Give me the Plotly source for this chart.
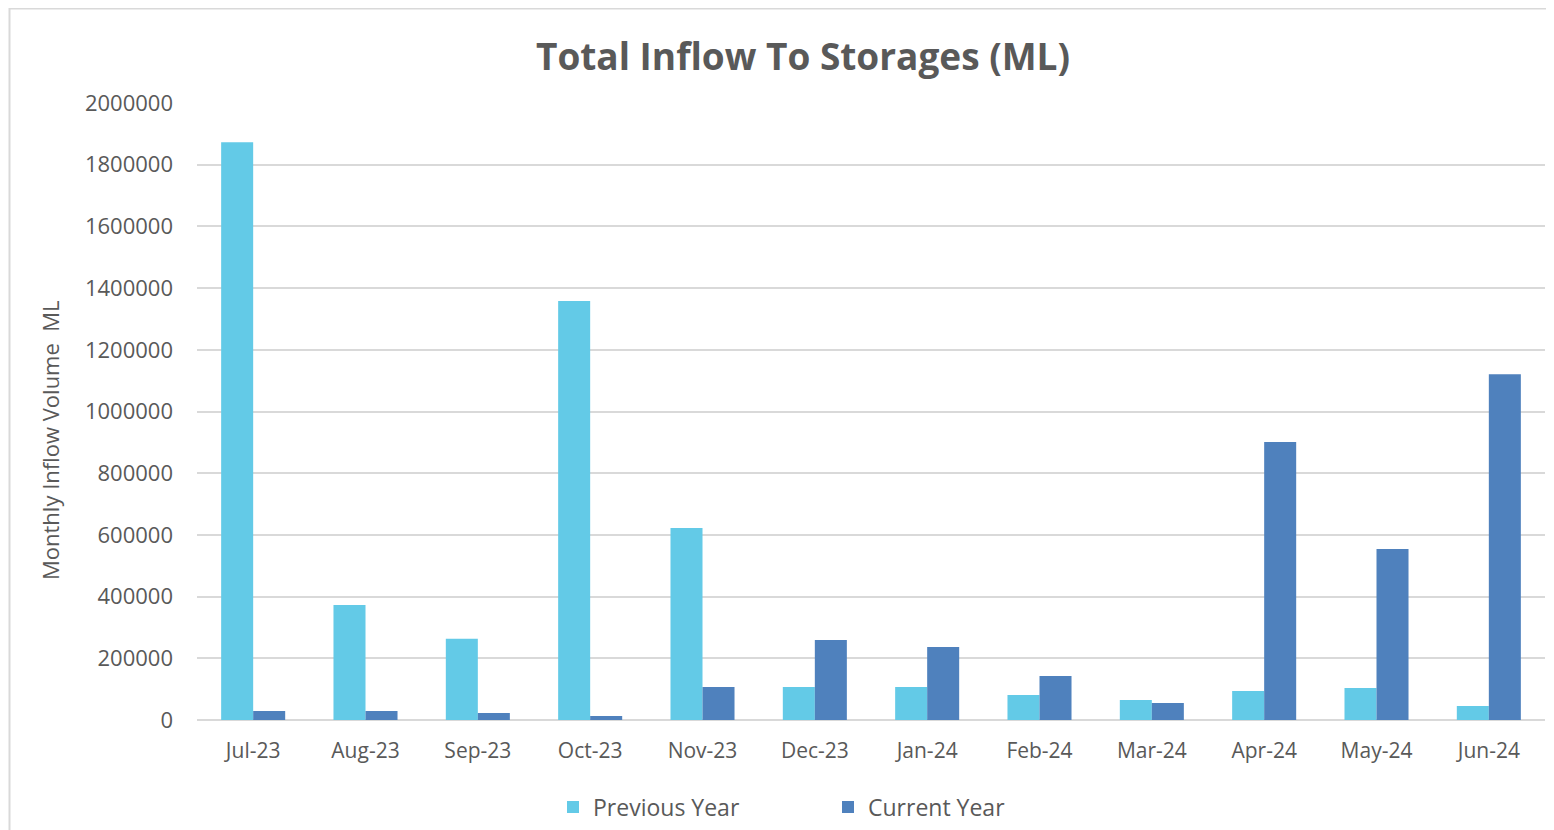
import plotly.graph_objects as go

months = ["Jul-23", "Aug-23", "Sep-23", "Oct-23", "Nov-23", "Dec-23",
          "Jan-24", "Feb-24", "Mar-24", "Apr-24", "May-24", "Jun-24"]
previous_year = [1873000, 373000, 263000, 1358000, 622000, 107000,
                 107000, 81000, 65000, 94000, 104000, 45000]
current_year = [29000, 29000, 23000, 13000, 107000, 259000,
                237000, 143000, 55000, 901000, 554000, 1121000]
y_ticks = [0, 200000, 400000, 600000, 800000, 1000000, 1200000,
           1400000, 1600000, 1800000, 2000000]

OFF = 8  # default page body margin
W, H = 1554 - OFF, 830 - OFF
L, R, T, B = 197 - OFF, 1545 - OFF, 103 - OFF, 720 - OFF

def px_x(p):
    return (p - OFF - L) / (R - L)

def px_y(p):
    return (B - (p - OFF)) / (B - T)

FONT = "Open Sans"
GREY = "#595959"

fig = go.Figure()
fig.add_trace(go.Bar(x=months, y=previous_year, name="Previous Year",
                     marker=dict(color="#63CAE7", line=dict(width=0))))
fig.add_trace(go.Bar(x=months, y=current_year, name="Current Year",
                     marker=dict(color="#4F81BD", line=dict(width=0))))

fig.update_layout(
    width=W, height=H,
    margin=dict(l=L, r=W - R, t=T, b=H - B, autoexpand=False),
    paper_bgcolor="white", plot_bgcolor="white",
    barmode="group", bargap=0.43, bargroupgap=0,
    font=dict(family=FONT, color=GREY, size=20),
    title=dict(text="<b>Total Inflow To Storages (ML)</b>",
               x=(803 - OFF) / W, xref="container", xanchor="center",
               y=1 - (57 - OFF) / H, yref="container", yanchor="middle",
               font=dict(family=FONT, size=37, color=GREY)),
    legend=dict(orientation="h", x=px_x(553), xanchor="left",
                y=px_y(807), yanchor="middle",
                entrywidth=230, entrywidthmode="pixels",
                font=dict(family=FONT, size=23, color=GREY),
                traceorder="normal"),
    showlegend=True,
)
fig.update_xaxes(showgrid=False, showline=False, zeroline=False,
                 ticks="", ticklabelstandoff=16,
                 tickfont=dict(family=FONT, size=21, color=GREY))
fig.update_yaxes(range=[0, 2000000], tickvals=y_ticks,
                 ticktext=[str(v) for v in y_ticks],
                 showgrid=True, gridcolor="#D9D9D9", gridwidth=1.5,
                 zeroline=True, zerolinecolor="#D9D9D9", zerolinewidth=2,
                 showline=False, ticks="", ticklabelstandoff=23,
                 tickfont=dict(family=FONT, size=22, color=GREY))

fig.add_annotation(text="Monthly Inflow Volume  ML", textangle=-90,
                   x=px_x(50), y=px_y(440), xref="paper", yref="paper",
                   showarrow=False, xanchor="center", yanchor="middle",
                   font=dict(family=FONT, size=22, color=GREY))

fig.add_shape(type="rect", xref="paper", yref="paper",
              x0=px_x(9.5), x1=px_x(1570), y0=px_y(850), y1=px_y(8.5),
              line=dict(color="#D9D9D9", width=2), fillcolor="rgba(0,0,0,0)",
              layer="below")

fig.write_html("out.html")
